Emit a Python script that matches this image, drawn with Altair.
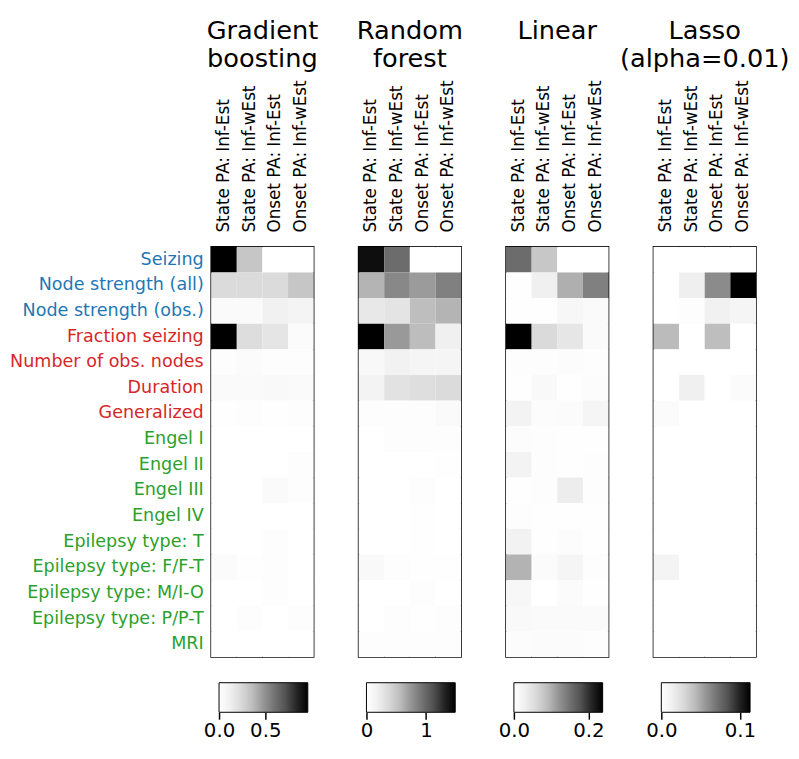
import altair as alt
import pandas as pd

features = [
    "Seizing", "Node strength (all)", "Node strength (obs.)",
    "Fraction seizing", "Number of obs. nodes", "Duration", "Generalized",
    "Engel I", "Engel II", "Engel III", "Engel IV",
    "Epilepsy type: T", "Epilepsy type: F/F-T", "Epilepsy type: M/I-O",
    "Epilepsy type: P/P-T", "MRI",
]
blue_features = ["Seizing", "Node strength (all)", "Node strength (obs.)"]
red_features = ["Fraction seizing", "Number of obs. nodes", "Duration", "Generalized"]

targets = ["State PA: Inf-Est", "State PA: Inf-wEst", "Onset PA: Inf-Est", "Onset PA: Inf-wEst"]

gb_vals = [
    [0.96, 0.32, 0.00, 0.00],
    [0.23, 0.23, 0.23, 0.32],
    [0.04, 0.04, 0.11, 0.09],
    [0.96, 0.22, 0.18, 0.03],
    [0.02, 0.03, 0.02, 0.02],
    [0.04, 0.04, 0.05, 0.04],
    [0.01, 0.02, 0.01, 0.02],
    [0.00, 0.00, 0.00, 0.00],
    [0.00, 0.00, 0.00, 0.02],
    [0.00, 0.00, 0.04, 0.02],
    [0.00, 0.00, 0.00, 0.00],
    [0.00, 0.00, 0.02, 0.00],
    [0.03, 0.01, 0.02, 0.00],
    [0.00, 0.00, 0.02, 0.00],
    [0.00, 0.02, 0.00, 0.02],
    [0.00, 0.00, 0.00, 0.00],
]
rf_vals = [
    [1.42, 0.97, 0.00, 0.00],
    [0.60, 0.82, 0.72, 0.86],
    [0.25, 0.28, 0.55, 0.60],
    [1.49, 0.73, 0.56, 0.19],
    [0.09, 0.16, 0.12, 0.12],
    [0.15, 0.30, 0.33, 0.36],
    [0.03, 0.03, 0.03, 0.06],
    [0.00, 0.02, 0.02, 0.02],
    [0.00, 0.00, 0.00, 0.01],
    [0.00, 0.00, 0.03, 0.00],
    [0.00, 0.00, 0.01, 0.00],
    [0.00, 0.00, 0.01, 0.00],
    [0.08, 0.03, 0.01, 0.01],
    [0.00, 0.00, 0.02, 0.00],
    [0.00, 0.02, 0.01, 0.02],
    [0.03, 0.02, 0.03, 0.02],
]
lin_vals = [
    [0.155, 0.079, 0.000, 0.000],
    [0.002, 0.030, 0.100, 0.138],
    [0.002, 0.002, 0.016, 0.010],
    [0.238, 0.058, 0.043, 0.010],
    [0.004, 0.004, 0.006, 0.004],
    [0.002, 0.012, 0.002, 0.006],
    [0.024, 0.006, 0.008, 0.020],
    [0.006, 0.004, 0.002, 0.002],
    [0.024, 0.004, 0.002, 0.004],
    [0.002, 0.004, 0.033, 0.004],
    [0.004, 0.002, 0.002, 0.002],
    [0.026, 0.002, 0.006, 0.002],
    [0.097, 0.008, 0.020, 0.004],
    [0.016, 0.000, 0.008, 0.002],
    [0.012, 0.010, 0.010, 0.010],
    [0.006, 0.008, 0.008, 0.004],
]
lasso_vals = [
    [0.000, 0.000, 0.000, 0.000],
    [0.000, 0.015, 0.061, 0.113],
    [0.000, 0.002, 0.013, 0.009],
    [0.043, 0.000, 0.042, 0.000],
    [0.000, 0.000, 0.000, 0.000],
    [0.000, 0.014, 0.000, 0.004],
    [0.004, 0.000, 0.000, 0.000],
    [0.000, 0.000, 0.000, 0.000],
    [0.000, 0.000, 0.000, 0.000],
    [0.000, 0.000, 0.000, 0.000],
    [0.000, 0.000, 0.000, 0.000],
    [0.000, 0.000, 0.000, 0.000],
    [0.010, 0.000, 0.000, 0.000],
    [0.000, 0.000, 0.000, 0.000],
    [0.000, 0.000, 0.000, 0.000],
    [0.000, 0.000, 0.000, 0.000],
]

titles = [["Gradient", "boosting"], ["Random", "forest"], ["Linear", " "], ["Lasso", "(alpha=0.01)"]]
colorbar_ticks = [[0, 0.5], [0, 1], [0, 0.2], [0, 0.1]]
colorbar_formats = [".1f", "d", ".1f", ".1f"]
panels = [gb_vals, rf_vals, lin_vals, lasso_vals]

# matplotlib "Greys" colour stops
greys = ["#ffffff", "#f0f0f0", "#d9d9d9", "#bdbdbd", "#969696",
         "#737373", "#525252", "#252525", "#000000"]

FONT = "DejaVu Sans"
W, H = 104, 416


def to_long(vals):
    rows = []
    for i, f in enumerate(features):
        for j, t in enumerate(targets):
            rows.append({"feature": f, "target": t, "v": vals[i][j]})
    return pd.DataFrame(rows)


def js_list(items):
    return "[" + ",".join("'" + s + "'" for s in items) + "]"


color_expr = (
    f"indexof({js_list(blue_features)}, datum.value) >= 0 ? '#1f77b4' : "
    f"(indexof({js_list(red_features)}, datum.value) >= 0 ? '#d62728' : '#2ca02c')"
)

gradient = alt.LinearGradient(
    gradient="linear", x1=0, x2=1, y1=0, y2=0,
    stops=[alt.GradientStop(offset=i / (len(greys) - 1), color=c) for i, c in enumerate(greys)],
)

charts = []
for k, vals in enumerate(panels):
    df = to_long(vals)
    vmax = max(max(r) for r in vals)
    stops = [vmax * i / (len(greys) - 1) for i in range(len(greys))]
    if k == 0:
        yaxis = alt.Axis(
            title=None, ticks=False, domain=False, labelFontSize=17.8,
            labelPadding=8, labelColor={"expr": color_expr}, labelLimit=400,
        )
    else:
        yaxis = None
    heat = (
        alt.Chart(df)
        .mark_rect()
        .encode(
            x=alt.X(
                "target:N", sort=targets,
                scale=alt.Scale(paddingInner=0, paddingOuter=0),
                axis=alt.Axis(orient="top", title=None, labelAngle=-90, ticks=False,
                              domain=False, labelFontSize=17, labelPadding=15,
                              labelColor="black", labelLimit=300),
            ),
            y=alt.Y(
                "feature:N", sort=features,
                scale=alt.Scale(paddingInner=0, paddingOuter=0),
                axis=yaxis,
            ),
            color=alt.Color(
                "v:Q",
                scale=alt.Scale(domain=stops, range=greys, nice=False, interpolate="rgb"),
                legend=None,
            ),
        )
    )
    cb_df = pd.DataFrame({"lo": [0.0], "hi": [vmax]})
    cbar = (
        alt.Chart(cb_df)
        .mark_rect(fill=gradient, stroke="black", strokeWidth=1)
        .encode(
            x=alt.X(
                "lo:Q",
                scale=alt.Scale(domain=[0, vmax], range=[8, 98], nice=False, zero=False),
                axis=alt.Axis(orient="bottom", offset=56, values=colorbar_ticks[k],
                              format=colorbar_formats[k], tickSize=7, tickWidth=1.5,
                              tickColor="black", domain=False, grid=False, title=None,
                              labelFontSize=20, labelPadding=2, labelColor="black",
                              labelFlush=False, labelOverlap=False),
            ),
            x2="hi:Q",
            y=alt.value(H + 26),
            y2=alt.value(H + 56),
        )
    )
    panel = (
        alt.layer(heat, cbar)
        .resolve_scale(x="independent")
        .resolve_axis(x="independent")
        .properties(
            width=W, height=H,
            title=alt.TitleParams(
                text=titles[k], fontSize=26, fontWeight="normal", anchor="middle",
                lineHeight=28, offset=8, color="black", font=FONT,
            ),
        )
    )
    charts.append(panel)

chart = (
    alt.hconcat(*charts, spacing=45.5, bounds="flush")
    .resolve_scale(color="independent", x="independent")
    .properties(padding={"left": 1, "top": 4, "right": 0, "bottom": 0})
    .configure(font=FONT)
    .configure_view(stroke="black", strokeWidth=1.5)
)

chart.save("out.html", embed_options={"renderer": "svg", "actions": False})
